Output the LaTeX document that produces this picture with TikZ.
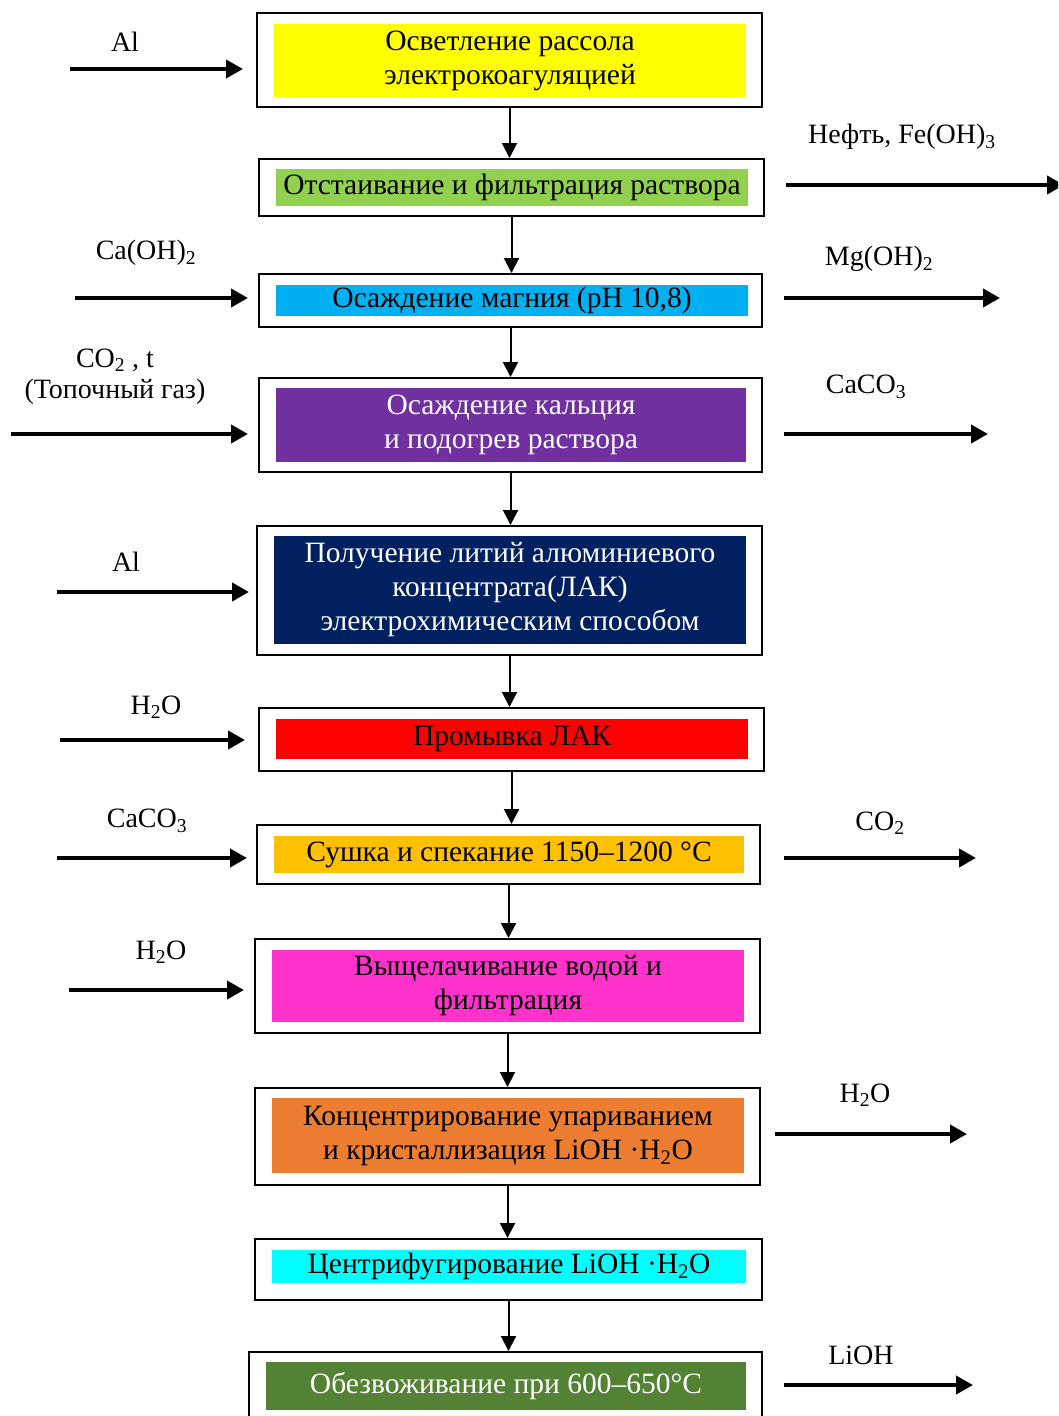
\documentclass[tikz,border=0pt]{standalone}
\usepackage{fontspec}
\setmainfont{Liberation Serif}
\usetikzlibrary{arrows.meta}
\newcommand\sbs[1]{\textsubscript{#1}}
\begin{document}
\begin{tikzpicture}[x=1pt,y=-1pt,
  frame/.style={draw=black, line width=2pt, fill=white, inner sep=0pt, rectangle},
  fillbox/.style={inner sep=0pt, rectangle, align=center, font=\fontsize{29.5}{34}\selectfont},
  lbl/.style={inner sep=0pt, align=center, font=\fontsize{28}{33}\selectfont},
  varrow/.style={line width=2pt, -{Triangle[length=15pt,width=15pt]}},
  sarrow/.style={line width=4pt, -{Triangle[length=17pt,width=18pt]}},
]
\useasboundingbox (0,0) rectangle (1058,1416);
\clip (0,0) rectangle (1058,1416);

% boxes
\node[frame, minimum width=505pt, minimum height=94pt] (b1) at (509.5,60) {};
\node[fillbox, fill={rgb,255:red,255;green,255;blue,0}, minimum width=472pt, minimum height=73pt] (t1) at (510,60.5) {Осветление рассола\\электрокоагуляцией};

\node[frame, minimum width=505pt, minimum height=57pt] (b2) at (511.5,187.5) {};
\node[fillbox, fill={rgb,255:red,146;green,208;blue,80}, minimum width=472pt, minimum height=37pt] (t2) at (512,187.5) {Отстаивание и фильтрация раствора};

\node[frame, minimum width=503pt, minimum height=53pt] (b3) at (510.5,300.5) {};
\node[fillbox, fill={rgb,255:red,0;green,176;blue,240}, minimum width=472pt, minimum height=31pt] (t3) at (512,300.5) {Осаждение магния (pH 10,8)};

\node[frame, minimum width=503pt, minimum height=94pt] (b4) at (510.5,425) {};
\node[fillbox, text=white, fill={rgb,255:red,112;green,48;blue,160}, minimum width=470pt, minimum height=74pt] (t4) at (511,425) {Осаждение кальция\\и подогрев раствора};

\node[frame, minimum width=505pt, minimum height=129pt] (b5) at (509.5,590.5) {};
\node[fillbox, text=white, fill={rgb,255:red,0;green,32;blue,96}, minimum width=472pt, minimum height=108pt] (t5) at (510,590) {Получение литий алюминиевого\\концентрата(ЛАК)\\электрохимическим способом};

\node[frame, minimum width=505pt, minimum height=63pt] (b6) at (511.5,739.5) {};
\node[fillbox, fill={rgb,255:red,255;green,0;blue,0}, minimum width=472pt, minimum height=40pt] (t6) at (512,739) {Промывка ЛАК};

\node[frame, minimum width=503pt, minimum height=59pt] (b7) at (508.5,854.5) {};
\node[fillbox, fill={rgb,255:red,255;green,192;blue,0}, minimum width=470pt, minimum height=37pt] (t7) at (509,854.5) {Сушка и спекание 1150–1200 °C};

\node[frame, minimum width=505pt, minimum height=94pt] (b8) at (507.5,986) {};
\node[fillbox, fill={rgb,255:red,255;green,51;blue,204}, minimum width=472pt, minimum height=72pt] (t8) at (508,986) {Выщелачивание водой и\\фильтрация};

\node[frame, minimum width=505pt, minimum height=97pt] (b9) at (507.5,1136.5) {};
\node[fillbox, fill={rgb,255:red,237;green,125;blue,49}, minimum width=472pt, minimum height=75pt] (t9) at (508,1135.5) {Концентрирование упариванием\\и кристаллизация LiOH ·H\sbs{2}O};

\node[frame, minimum width=507pt, minimum height=61pt] (b10) at (508.5,1269.5) {};
\node[fillbox, fill={rgb,255:red,0;green,255;blue,255}, minimum width=474pt, minimum height=33pt] (t10) at (509,1266.5) {Центрифугирование LiOH ·H\sbs{2}O};

\node[frame, minimum width=513pt, minimum height=78pt] (b11) at (505.5,1391) {};
\node[fillbox, text=white, fill={rgb,255:red,84;green,130;blue,53}, minimum width=480pt, minimum height=48pt] (t11) at (506,1386) {Обезвоживание при 600–650°C};

% vertical arrows
\draw[varrow] (b1.south) -- (b1.south |- b2.north);
\draw[varrow] (b2.south) -- (b2.south |- b3.north);
\draw[varrow] (b3.south) -- (b3.south |- b4.north);
\draw[varrow] (b4.south) -- (b4.south |- b5.north);
\draw[varrow] (b5.south) -- (b5.south |- b6.north);
\draw[varrow] (b6.south) -- (b6.south |- b7.north);
\draw[varrow] (b7.south) -- (b7.south |- b8.north);
\draw[varrow] (b8.south) -- (b8.south |- b9.north);
\draw[varrow] (b9.south) -- (b9.south |- b10.north);
\draw[varrow] (b10.south) -- (b10.south |- b11.north);

% left inputs
\coordinate (l1s) at (70,69);   \coordinate (l1e) at (243,69);
\coordinate (l2s) at (75,298);  \coordinate (l2e) at (248,298);
\coordinate (l3s) at (11,434);  \coordinate (l3e) at (248,434);
\coordinate (l4s) at (57,592);  \coordinate (l4e) at (249,592);
\coordinate (l5s) at (60,740);  \coordinate (l5e) at (245,740);
\coordinate (l6s) at (57,858);  \coordinate (l6e) at (247,858);
\coordinate (l7s) at (69,990);  \coordinate (l7e) at (244,990);
\draw[sarrow] (l1s) -- (l1e);
\draw[sarrow] (l2s) -- (l2e);
\draw[sarrow] (l3s) -- (l3e);
\draw[sarrow] (l4s) -- (l4e);
\draw[sarrow] (l5s) -- (l5e);
\draw[sarrow] (l6s) -- (l6e);
\draw[sarrow] (l7s) -- (l7e);

\node[lbl] (la1) at (125,42) {Al};
\node[lbl] (la2) at (146,253) {Ca(OH)\sbs{2}};
\node[lbl] (la3) at (115,360) {CO\sbs{2} , t};
\node[lbl] (la3b) at (115,392) {(Топочный газ)};
\node[lbl] (la4) at (126,562) {Al};
\node[lbl] (la5) at (156,707) {H\sbs{2}O};
\node[lbl] (la6) at (147,821) {CaCO\sbs{3}};
\node[lbl] (la7) at (161,952) {H\sbs{2}O};

% right outputs
\coordinate (r1s) at (786,185);  \coordinate (r1e) at (1064,185);
\coordinate (r2s) at (784,298);  \coordinate (r2e) at (1000,298);
\coordinate (r3s) at (784,434);  \coordinate (r3e) at (988,434);
\coordinate (r4s) at (784,858);  \coordinate (r4e) at (976,858);
\coordinate (r5s) at (775,1134); \coordinate (r5e) at (967,1134);
\coordinate (r6s) at (784,1385); \coordinate (r6e) at (973,1385);
\draw[sarrow] (r1s) -- (r1e);
\draw[sarrow] (r2s) -- (r2e);
\draw[sarrow] (r3s) -- (r3e);
\draw[sarrow] (r4s) -- (r4e);
\draw[sarrow] (r5s) -- (r5e);
\draw[sarrow] (r6s) -- (r6e);

\node[lbl] (ra1) at (902,137) {Нефть, Fe(OH)\sbs{3}};
\node[lbl] (ra2) at (879,259) {Mg(OH)\sbs{2}};
\node[lbl] (ra3) at (866,387) {CaCO\sbs{3}};
\node[lbl] (ra4) at (880,823) {CO\sbs{2}};
\node[lbl] (ra5) at (865,1095) {H\sbs{2}O};
\node[lbl] (ra6) at (861,1355) {LiOH};
\end{tikzpicture}
\end{document}
